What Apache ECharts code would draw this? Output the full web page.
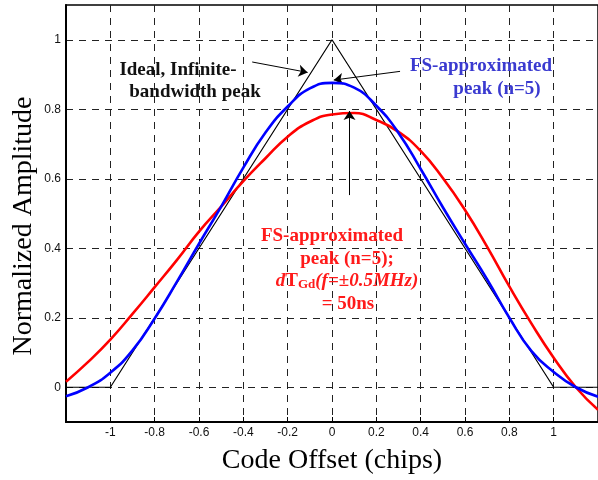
<!DOCTYPE html>
<html><head><meta charset="utf-8">
<script src="https://cdn.jsdelivr.net/npm/echarts@6/dist/echarts.min.js"></script>
<style>html,body{margin:0;padding:0;background:#fff}#c{width:598px;height:480px}</style>
</head><body><div id="c"></div>
<script>
// Data
const xValues = [-1.2,-1.1,-1.0,-0.9,-0.8,-0.7,-0.6,-0.5,-0.4,-0.3,-0.2,-0.1,0,0.1,0.2,0.3,0.4,0.5,0.6,0.7,0.8,0.9,1.0,1.1,1.2];
const blueFS = [-0.026,0.0,0.042,0.106,0.198,0.303,0.413,0.52,0.632,0.733,0.808,0.86,0.876,0.862,0.81,0.732,0.628,0.518,0.413,0.31,0.2,0.104,0.044,0.0,-0.027];
const redFS = [0.016,0.073,0.137,0.211,0.288,0.366,0.448,0.52,0.593,0.659,0.721,0.764,0.785,0.789,0.769,0.735,0.68,0.602,0.51,0.404,0.29,0.183,0.085,0.0,-0.065];
const idealX = [-1.2,-1.0,0,1.0,1.2];
const idealY = [0,0,1,0,0];
const xTicks = [-1,-0.8,-0.6,-0.4,-0.2,0,0.2,0.4,0.6,0.8,1];
const yTicks = [0,0.2,0.4,0.6,0.8,1];

const zip = (a,b) => a.map((v,i)=>[v,b[i]]);
const chart = echarts.init(document.getElementById('c'), null, {renderer:'canvas'});
const serif = '"Liberation Serif","Times New Roman",serif';
const sans = '"Liberation Sans",Arial,sans-serif';
const gridDash = {color:'#222', width:1, type:[7,6]};

chart.setOption({
  animation:false,
  grid:{left:66, right:-3, top:5, bottom:54, show:true, borderColor:'#000', borderWidth:1.5, backgroundColor:'transparent'},
  xAxis:{
    type:'value', min:-1.2, max:1.2,
    name:'Code Offset (chips)', nameLocation:'middle', nameGap:25,
    nameTextStyle:{fontFamily:serif, fontSize:28, color:'#000'},
    axisLine:{show:true, onZero:false, lineStyle:{color:'#000', width:2}},
    axisTick:{show:true, inside:true, length:5, lineStyle:{color:'#000'}, customValues:xTicks},
    axisLabel:{customValues:xTicks, fontFamily:sans, fontSize:12, color:'#111', margin:5,
      formatter:v=>String(Math.round(v*10)/10)},
    splitLine:{show:true, lineStyle:gridDash}
  },
  yAxis:{
    type:'value', min:-0.1, max:1.1,
    axisLine:{show:true, onZero:false, lineStyle:{color:'#000', width:2}},
    axisTick:{show:false, customValues:yTicks},
    axisLabel:{customValues:yTicks, fontFamily:sans, fontSize:12, color:'#111', margin:5,
      formatter:v=>String(Math.round(v*10)/10)},
    splitLine:{show:true, lineStyle:gridDash}
  },
  series:[
    {type:'line', data:zip(idealX, idealY), symbol:'none', lineStyle:{color:'#000', width:1.2}, z:3,
     markLine:{silent:true, symbol:['none','arrow'], symbolSize:9, label:{show:false},
       lineStyle:{color:'#000', width:1, type:'solid'},
       data:[
         [{coord:[-0.36,0.936]},{coord:[-0.11,0.906]}],
         [{coord:[0.307,0.909]},{coord:[0.008,0.884]}],
         [{coord:[0.079,0.553]},{coord:[0.079,0.795]}]
       ]}},
    {type:'line', data:zip(xValues, redFS), symbol:'none', smooth:0.5, lineStyle:{color:'#ff0000', width:2.6}, z:4},
    {type:'line', data:zip(xValues, blueFS), symbol:'none', smooth:0.5, lineStyle:{color:'#0000ff', width:2.6}, z:5}
  ],
  graphic:[
    {type:'text', z:10, x:24, y:226, rotation:Math.PI/2, style:{text:'Normalized Amplitude', align:'center', verticalAlign:'middle', font:'28px '+serif, fill:'#000'}},
    {type:'text', z:10, style:{text:'Ideal, Infinite-', x:178, y:70, align:'center', verticalAlign:'middle', font:'bold 19px '+serif, fill:'#111'}},
    {type:'text', z:10, style:{text:'bandwidth peak', x:195, y:92, align:'center', verticalAlign:'middle', font:'bold 19px '+serif, fill:'#111'}},
    {type:'text', z:10, style:{text:'FS-approximated', x:481, y:66, align:'center', verticalAlign:'middle', font:'bold 19px '+serif, fill:'#3a3ad0'}},
    {type:'text', z:10, style:{text:'peak (n=5)', x:497, y:89, align:'center', verticalAlign:'middle', font:'bold 19px '+serif, fill:'#3a3ad0'}},
    {type:'text', z:10, style:{text:'FS-approximated', x:332, y:236, align:'center', verticalAlign:'middle', font:'bold 19px '+serif, fill:'#ff1a1a'}},
    {type:'text', z:10, style:{text:'peak (n=5);', x:347, y:259, align:'center', verticalAlign:'middle', font:'bold 19px '+serif, fill:'#ff1a1a'}},
    {type:'text', z:10, style:{
      text:'{i|d}{b|T}{s|Gd}{i|(f=±0.5MHz)}', x:347, y:281, align:'center', verticalAlign:'middle',
      fill:'#ff1a1a',
      rich:{
        i:{font:'italic bold 19px '+serif, fill:'#ff1a1a'},
        b:{font:'bold 19px '+serif, fill:'#ff1a1a'},
        s:{font:'bold 13px '+serif, fill:'#ff1a1a', padding:[8,0,0,0]}
      }}},
    {type:'text', z:10, style:{text:'= 50ns', x:348, y:304, align:'center', verticalAlign:'middle', font:'bold 19px '+serif, fill:'#ff1a1a'}}
  ]
});
</script></body></html>
